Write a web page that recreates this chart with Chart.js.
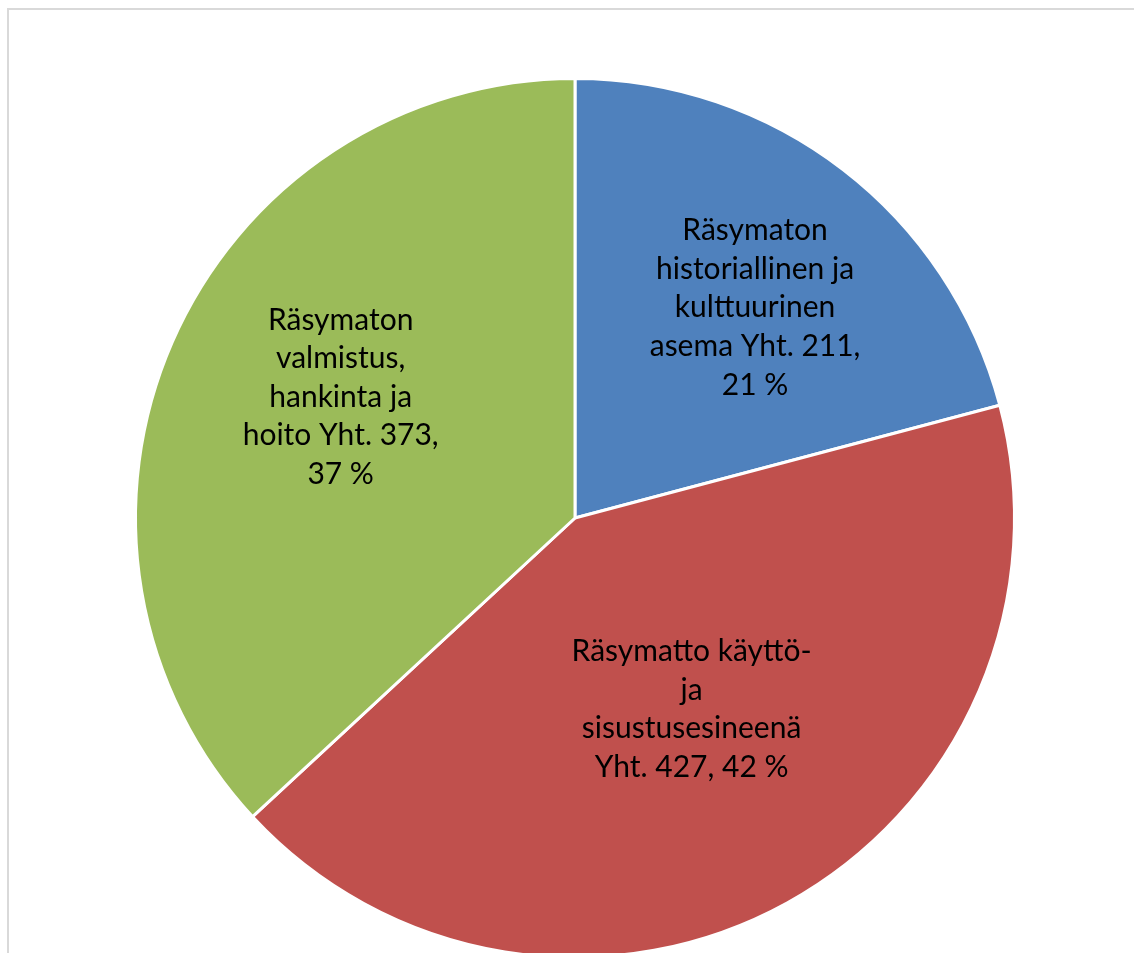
<!DOCTYPE html>
<html>
<head>
<meta charset="utf-8">
<script src="https://cdn.jsdelivr.net/npm/chart.js@4"></script>
<style>
    html, body { margin: 0; padding: 0; background: #fff; overflow: hidden; }
    body { width: 1134px; height: 953px; position: relative; }
    .frame { position: absolute; left: 7px; top: 8px; width: 1200px; height: 1000px; border: 2px solid #d9d9d9; box-sizing: border-box; }
    .wrap { position: absolute; left: 0; top: 0; width: 1150px; height: 1000px; }
</style>
</head>
<body>
<div class="frame"></div>
<div class="wrap"><canvas id="pieChart"></canvas></div>
<script>
const categories = [
    'Räsymaton historiallinen ja kulttuurinen asema',
    'Räsymatto käyttö- ja sisustusesineenä',
    'Räsymaton valmistus, hankinta ja hoito'
];
const counts = [211, 427, 373];
const percents = [21, 42, 37];
const labelLines = [
    ['Räsymaton', 'historiallinen ja', 'kulttuurinen', 'asema Yht. 211,', '21 %'],
    ['Räsymatto käyttö-', 'ja', 'sisustusesineenä', 'Yht. 427, 42 %'],
    ['Räsymaton', 'valmistus,', 'hankinta ja', 'hoito Yht. 373,', '37 %']
];
const colors = ['#4f81bd', '#c0504d', '#9bbb59'];

// where each label sits inside its slice (fraction of radius, extra angle in degrees)
const labelPlace = [
    { r: 0.63, da: 3 },
    { r: 0.51, da: -2.5 },
    { r: 0.60, da: 3.7 }
];

const sliceLabels = {
    id: 'sliceLabels',
    afterDatasetsDraw(chart) {
        const ctx = chart.ctx;
        const arcs = chart.getDatasetMeta(0).data;
        ctx.save();
        ctx.fillStyle = '#000';
        ctx.font = '30px Lato, "Open Sans", sans-serif';
        ctx.textAlign = 'center';
        ctx.textBaseline = 'middle';
        const lh = 38.6;
        arcs.forEach((arc, i) => {
            const p = arc.getProps(['x', 'y', 'startAngle', 'endAngle', 'outerRadius']);
            const a = (p.startAngle + p.endAngle) / 2 + labelPlace[i].da * Math.PI / 180;
            const cx = p.x + Math.cos(a) * p.outerRadius * labelPlace[i].r;
            const cy = p.y + Math.sin(a) * p.outerRadius * labelPlace[i].r;
            const lines = labelLines[i];
            const top = cy - (lines.length - 1) * lh / 2;
            lines.forEach((t, j) => ctx.fillText(t, cx, top + j * lh));
        });
        ctx.restore();
    }
};

const ctx = document.getElementById('pieChart').getContext('2d');
new Chart(ctx, {
    type: 'pie',
    data: {
        labels: categories,
        datasets: [{
            data: counts,
            backgroundColor: colors,
            borderColor: '#ffffff',
            borderWidth: 3
        }]
    },
    options: {
        responsive: true,
        maintainAspectRatio: false,
        animation: false,
        layout: {
            padding: { left: 134, right: 134, top: 77, bottom: 41 }
        },
        plugins: {
            legend: { display: false },
            tooltip: { enabled: false }
        }
    },
    plugins: [sliceLabels]
});
</script>
</body>
</html>
